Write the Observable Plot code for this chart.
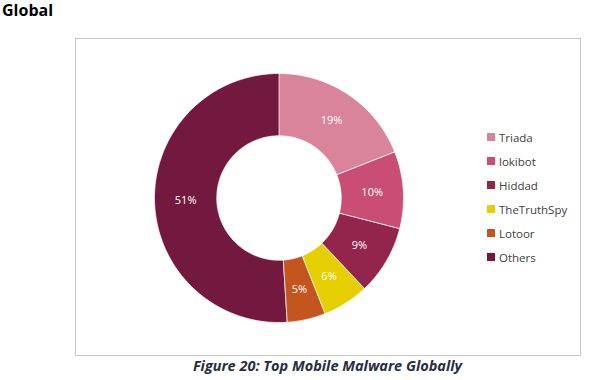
<!DOCTYPE html>
<html><head><meta charset="utf-8">
<script src="https://cdn.jsdelivr.net/npm/d3@7"></script>
<script src="https://cdn.jsdelivr.net/npm/@observablehq/plot@0.6"></script>
<style>
body{margin:0;background:#fff;width:592px;height:380px;position:relative;overflow:hidden;font-family:"Open Sans",sans-serif}
#title{position:absolute;left:2px;top:-1px;font-weight:700;font-size:16px;color:#000}
#chart{position:absolute;left:0;top:28px}
#legend{position:absolute;left:487px;top:125px;font-family:"Open Sans",sans-serif;font-size:11.5px;color:#404040}
#legend .row{height:24px;display:flex;align-items:center;white-space:nowrap}
#legend .sw{width:8px;height:8px;margin-right:4px;display:inline-block}
#caption{position:absolute;left:75px;width:505px;top:356px;text-align:center;font-weight:700;font-style:italic;font-size:14.5px;color:#262f40}
</style>
</head><body>
<div id="title">Global</div>
<div id="chart"></div>
<div id="legend"></div>
<div id="caption">Figure 20: Top Mobile Malware Globally</div>
<script>
const categories = ["Triada","lokibot","Hiddad","TheTruthSpy","Lotoor","Others"];
const shares = [19,10,9,6,5,51];
const colors = ["#d9849a","#c94d75","#93244b","#e5cf00","#c5551f","#73183f"];

const total = d3.sum(shares);
let acc = 0;
const slices = categories.map((name, i) => {
  const a0 = acc / total * 2 * Math.PI;
  acc += shares[i];
  const a1 = acc / total * 2 * Math.PI;
  return {name, value: shares[i], a0, a1};
});
const inner = 0.5, outer = 1;
const pts = [];
for (const s of slices) {
  const n = Math.max(2, Math.ceil((s.a1 - s.a0) / (Math.PI / 180)));
  for (let k = 0; k <= n; k++) {
    const a = s.a0 + (s.a1 - s.a0) * k / n;
    pts.push({name: s.name, x: outer * Math.sin(a), y: outer * Math.cos(a)});
  }
  for (let k = n; k >= 0; k--) {
    const a = s.a0 + (s.a1 - s.a0) * k / n;
    pts.push({name: s.name, x: inner * Math.sin(a), y: inner * Math.cos(a)});
  }
}
const labels = slices.map(s => {
  const m = (s.a0 + s.a1) / 2, r = (inner + outer) / 2;
  return {x: r * Math.sin(m), y: r * Math.cos(m), text: s.value + "%"};
});

// layout: pie centre and radius in svg pixels
const W = 592, H = 332, mL = 75, mR = 12, mT = 10, mB = 5;
const cx = 278.5, cy = 169.5, R = 124.5;
const xDom = [(mL - cx) / R, (W - mR - cx) / R];
const yDom = [-(H - mB - cy) / R, (cy - mT) / R];

const chart = Plot.plot({
  width: W, height: H,
  marginLeft: mL, marginRight: mR, marginTop: mT, marginBottom: mB,
  x: {domain: xDom, axis: null},
  y: {domain: yDom, axis: null},
  color: {domain: categories, range: colors},
  style: {fontFamily: "'Open Sans', sans-serif", background: "white"},
  marks: [
    Plot.frame({stroke: "#c8c8c8"}),
    Plot.line(pts, {x: "x", y: "y", z: "name", fill: "name", stroke: "white", strokeWidth: 0.7, curve: "linear-closed"}),
    Plot.text(labels, {x: "x", y: "y", text: "text", fill: "white", fontSize: 11})
  ]
});
document.getElementById("chart").appendChild(chart);

const leg = document.getElementById("legend");
categories.forEach((c, i) => {
  const row = document.createElement("div");
  row.className = "row";
  const sw = document.createElement("span");
  sw.className = "sw";
  sw.style.background = colors[i];
  row.appendChild(sw);
  row.appendChild(document.createTextNode(c));
  leg.appendChild(row);
});
</script>
</body></html>
